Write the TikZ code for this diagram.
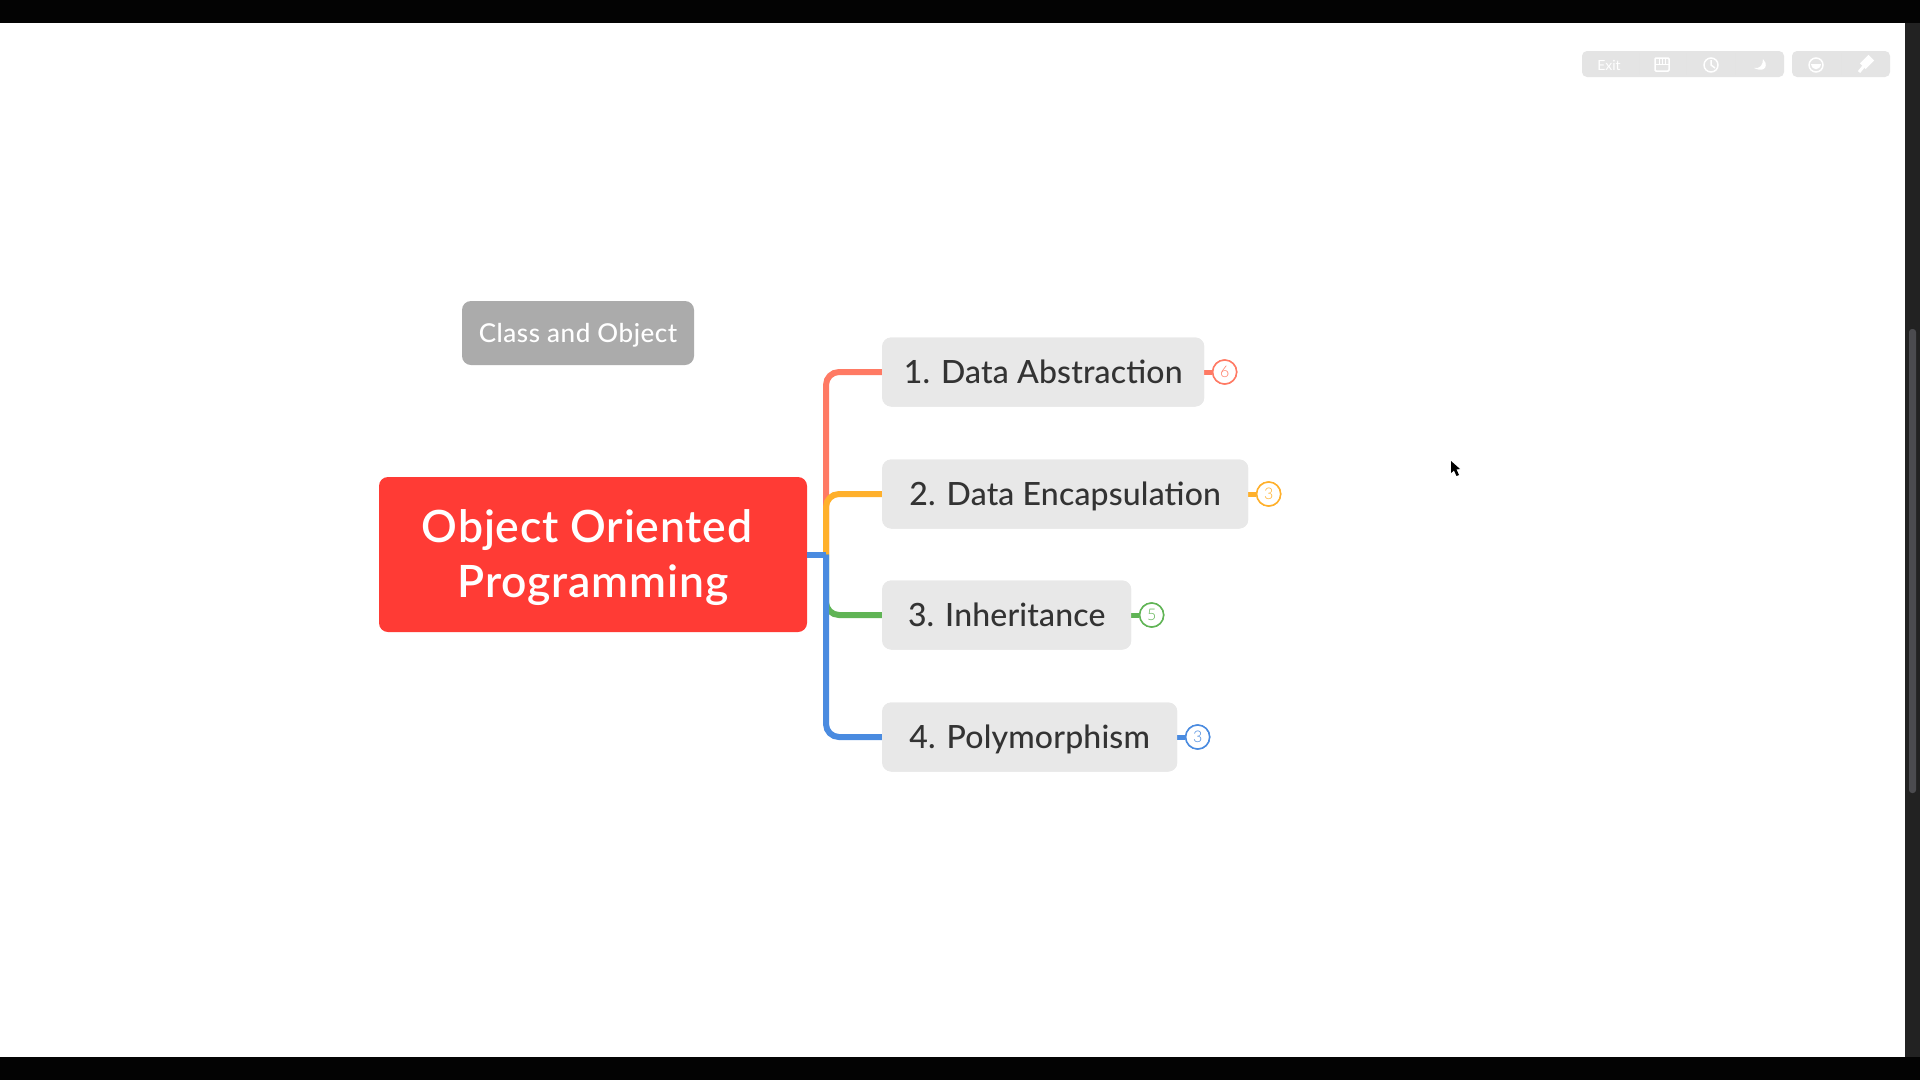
\documentclass[tikz,border=0pt]{standalone}
\usepackage{fontspec}
\setmainfont{Lato}
\newfontfamily\mapfont{Lato Medium}
\newfontfamily\rootfont{Lato Semibold}
\newfontfamily\countfont{Lato Light}
\usetikzlibrary{positioning}
\definecolor{rootred}{HTML}{FF3B35}
\definecolor{boxgray}{HTML}{E8E8E8}
\definecolor{notegray}{HTML}{ABABAB}
\definecolor{inkgray}{HTML}{333333}
\definecolor{barblack}{HTML}{030303}
\definecolor{sidegray}{HTML}{222222}
\definecolor{scrollgray}{HTML}{4B4B4F}
\definecolor{toolgray}{HTML}{E4E4E4}
\definecolor{linered}{HTML}{FF7A64}
\definecolor{lineorange}{HTML}{FFB02B}
\definecolor{linegreen}{HTML}{60B455}
\definecolor{lineblue}{HTML}{4A8BE0}

\begin{document}
\begin{tikzpicture}
 [
  x=1pt, y=-1pt,
  rootnode/.style  = {fill = rootred, text = white, rounded corners = 9pt, minimum width = 428pt,
                      minimum height = 155pt, align = center, text depth = 1pt,
                      font = \fontsize{44.5}{55}\rootfont\addfontfeature{LetterSpace=1.8}},
  notenode/.style  = {fill = notegray, text = white, rounded corners = 9pt, minimum width = 232pt,
                      minimum height = 64pt, text height = 23pt, text depth = 5pt,
                      font = \fontsize{26}{28}\mapfont\addfontfeature{LetterSpace=2}},
  topic/.style     = {fill = boxgray, text = inkgray, rounded corners = 9pt, anchor = west,
                      minimum height = 69pt, text height = 26pt, text depth = 3pt,
                      font = \fontsize{32}{36}\mapfont\addfontfeature{LetterSpace=.5}},
  branch/.style    = {line width = 6pt, rounded corners = 13pt},
  stub/.style      = {line width = 5pt},
  badge/.style     = {draw, circle, fill = white, line width = 1.5pt, minimum size = 24pt,
                      inner sep = 0pt, font = \fontsize{16}{18}\countfont},
  toolbox/.style   = {fill = toolgray, rounded corners = 5pt, minimum height = 26pt},
  toolicon/.style  = {draw = white, line width = 1.5pt},
 ]
 \def \trunkx {826}

 % screen frame
 \fill[white] (0,0) rectangle (1920,1080);
 \fill[barblack] (0,0) rectangle (1920,23);
 \fill[barblack] (0,1057) rectangle (1920,1080);
 \fill[sidegray] (1905,23) rectangle (1920,1057);
 \fill[scrollgray, rounded corners = 3pt] (1909,329) rectangle (1916,793);

 % toolbar
 \node[toolbox, minimum width = 202pt] (tools) at (1683,64) {};
 \node[toolbox, minimum width = 98pt] (extras) at (1841,64) {};
 \node[text = white, font = \fontsize{14}{16}\selectfont] (exit) at (1609,65) {Exit};
 \foreach \x in {1639,1686,1735,1841}
  \draw[white!30!toolgray!92!gray, line width = .5pt] (\x,53) -- (\x,75);
 \draw[toolicon, rounded corners = 1pt] (1655,58) rectangle (1669,71);
 \draw[toolicon, line width = 1pt] (1655,64) -- (1669,64) (1659,58) -- (1659,64) (1662,58) -- (1662,64) (1665,58) -- (1665,64);
 \draw[toolicon] (1711,65) circle (7pt);
 \draw[toolicon] (1711,60) -- (1711,65) -- (1715,68);
 \fill[white] (1754,68) .. controls (1760,69) and (1763,65) .. (1763,59)
  .. controls (1768,63) and (1767,74) .. (1754,68) -- cycle;
 \draw[toolicon] (1816,65) circle (7pt);
 \fill[white] (1811,64) -- (1821,64) .. controls (1820,71) and (1812,71) .. (1811,64) -- cycle;
 \fill[white, rotate around = {45:(1867,62)}] (1861,58) rectangle (1873,66);
 \draw[toolicon, line width = 3pt] (1864,66) -- (1859,72);

 % mouse pointer
 \fill[black] (1451,461) -- (1451,473) -- (1454,470.5) -- (1456.5,476) -- (1459,475)
  -- (1456.5,469.5) -- (1460,469) -- cycle;

 % the map
 \node[rootnode] (root) at (593,554.5) {Object Oriented\hspace*{12pt}\\Programming};
 \node[notenode] (note) at (578,333) {Class and Object};
 \coordinate (trunk) at (\trunkx,554.5);

 \foreach \s/\y/\w/\name/\col/\cnt in {
   1/372/322/{1. Data Abstraction}/linered/6,
   2/494/366/{2. Data Encapsulation}/lineorange/3,
   3/615/249/{3. Inheritance}/linegreen/5,
   4/737/295/{4. Polymorphism}/lineblue/3}
 {
  \coordinate (in\s) at (882,\y);
  \draw[branch, \col] (trunk) |- (in\s);
  \node[topic, minimum width = \w pt] (topic\s) at (in\s) {\name};
  \node[badge, draw = \col, text = \col, right = 7.5pt of topic\s] (count\s) {\cnt};
  \draw[stub, \col] (topic\s) -- (count\s);
  % the box and the circle cover the ends of the stub again
  \node[topic, minimum width = \w pt] at (in\s) {\name};
  \node[badge, draw = \col, text = \col] at (count\s) {\cnt};
 }
 \draw[line width = 6pt, lineblue] (root.east |- trunk) -- (trunk);
\end{tikzpicture}
\end{document}
